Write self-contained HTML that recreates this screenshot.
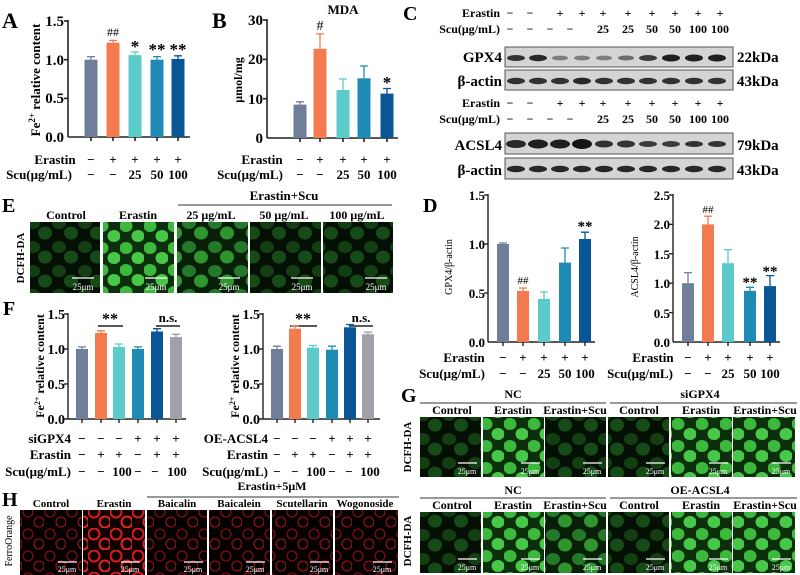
<!DOCTYPE html>
<html><head><meta charset="utf-8"><style>
html,body{margin:0;padding:0;background:#fff;}
svg{display:block;font-family:"Liberation Serif",serif;font-weight:bold;}
</style></head><body>
<svg width="800" height="575" viewBox="0 0 800 575" xmlns="http://www.w3.org/2000/svg">
<defs>
<pattern id="gd" width="26" height="24" patternUnits="userSpaceOnUse"><rect width="26" height="24" fill="#051005"/><ellipse cx="7" cy="7" rx="7" ry="6" fill="#123e12"/><ellipse cx="19" cy="17" rx="7" ry="6.5" fill="#164a16"/></pattern>
<pattern id="gm" width="26" height="24" patternUnits="userSpaceOnUse"><rect width="26" height="24" fill="#082008"/><ellipse cx="7" cy="7" rx="7" ry="6" fill="#23782a"/><ellipse cx="19" cy="17" rx="7" ry="6.5" fill="#2f952f"/></pattern>
<pattern id="gb" width="24" height="22" patternUnits="userSpaceOnUse"><rect width="24" height="22" fill="#0c300c"/><ellipse cx="6" cy="6" rx="6.5" ry="6" fill="#3cb83c"/><ellipse cx="18" cy="16" rx="6.5" ry="6" fill="#48c848"/></pattern>
<pattern id="rd" width="22" height="22" patternUnits="userSpaceOnUse"><rect width="22" height="22" fill="#050000"/><circle cx="6" cy="6" r="5" fill="none" stroke="#901010" stroke-width="1.1"/><circle cx="17" cy="16" r="5" fill="none" stroke="#a01414" stroke-width="1.1"/></pattern>
<pattern id="rb" width="22" height="22" patternUnits="userSpaceOnUse"><rect width="22" height="22" fill="#100000"/><circle cx="6" cy="6" r="5.5" fill="none" stroke="#d81c1c" stroke-width="2"/><circle cx="17" cy="16" r="5.5" fill="none" stroke="#e02424" stroke-width="2"/></pattern>
</defs>

<!-- Panel A -->
<text x="2" y="28" font-size="22">A</text>
<text transform="translate(40,80) rotate(-90)" font-size="13" text-anchor="middle">Fe<tspan font-size="9" dy="-5">2+</tspan><tspan dy="5"> relative content</tspan></text>
<g font-size="15" text-anchor="end"><text x="64" y="26">1.5</text><text x="64" y="65">1.0</text><text x="64" y="103">0.5</text><text x="64" y="142">0.0</text></g>
<g stroke="#222" stroke-width="1.6"><line x1="68" y1="20" x2="68" y2="137"/><line x1="68" y1="137" x2="190" y2="137"/>
<line x1="64" y1="21" x2="68" y2="21"/><line x1="64" y1="59.7" x2="68" y2="59.7"/><line x1="64" y1="98.4" x2="68" y2="98.4"/>
<line x1="91" y1="137" x2="91" y2="141"/><line x1="113" y1="137" x2="113" y2="141"/><line x1="135" y1="137" x2="135" y2="141"/><line x1="157" y1="137" x2="157" y2="141"/><line x1="178" y1="137" x2="178" y2="141"/></g>
<g stroke-width="1.3">
<rect x="84.5" y="59.7" width="13" height="77.3" fill="#6f7f9a"/><path d="M91 59.7V56.6M87 56.6H95" stroke="#6f7f9a"/>
<rect x="106.5" y="42.7" width="13" height="94.3" fill="#f47a4f"/><path d="M113 42.7V40.4M109 40.4H117" stroke="#f47a4f"/>
<rect x="128.5" y="55.1" width="13" height="81.9" fill="#5ecbcb"/><path d="M135 55.1V52M131 52H139" stroke="#5ecbcb"/>
<rect x="150.5" y="59.7" width="13" height="77.3" fill="#1f8ab4"/><path d="M157 59.7V56.6M153 56.6H161" stroke="#1f8ab4"/>
<rect x="171.5" y="58.9" width="13" height="78.1" fill="#0a5596"/><path d="M178 58.9V55.8M174 55.8H182" stroke="#0a5596"/></g>
<g text-anchor="middle"><text x="113" y="36" font-size="12" font-weight="normal">##</text><text x="135" y="52" font-size="17">*</text><text x="157" y="55" font-size="17">**</text><text x="178" y="55" font-size="17">**</text></g>
<g font-size="13" text-anchor="middle"><text x="55" y="164">Erastin</text><text x="39" y="179">Scu(μg/mL)</text>
<text x="91" y="164">−</text><text x="113" y="164">+</text><text x="135" y="164">+</text><text x="157" y="164">+</text><text x="178" y="164">+</text>
<text x="91" y="179">−</text><text x="113" y="179">−</text><text x="135" y="179">25</text><text x="157" y="179">50</text><text x="178" y="179">100</text></g>

<!-- Panel B -->
<text x="212" y="28" font-size="22">B</text>
<text x="343" y="14" font-size="13" text-anchor="middle">MDA</text>
<text transform="translate(242,80) rotate(-90)" font-size="12" text-anchor="middle">μmol/mg</text>
<g font-size="15" text-anchor="end"><text x="263" y="25">30</text><text x="263" y="64">20</text><text x="263" y="104">10</text><text x="263" y="143">0</text></g>
<g stroke="#222" stroke-width="1.6"><line x1="267" y1="19" x2="267" y2="138"/><line x1="267" y1="138" x2="398" y2="138"/>
<line x1="263" y1="20" x2="267" y2="20"/><line x1="263" y1="59.4" x2="267" y2="59.4"/><line x1="263" y1="98.7" x2="267" y2="98.7"/>
<line x1="300" y1="138" x2="300" y2="142"/><line x1="320" y1="138" x2="320" y2="142"/><line x1="343" y1="138" x2="343" y2="142"/><line x1="364" y1="138" x2="364" y2="142"/><line x1="387" y1="138" x2="387" y2="142"/></g>
<g stroke-width="1.3">
<rect x="293.5" y="104.6" width="13" height="33.4" fill="#6f7f9a"/><path d="M300 104.6V101.8M296 101.8H304" stroke="#6f7f9a"/>
<rect x="313.5" y="48.8" width="13" height="89.2" fill="#f47a4f"/><path d="M320 48.8V33.9M316 33.9H324" stroke="#f47a4f"/>
<rect x="336.5" y="90" width="13" height="48" fill="#5ecbcb"/><path d="M343 90V79M339 79H347" stroke="#5ecbcb"/>
<rect x="357.5" y="78.3" width="13" height="59.7" fill="#1f8ab4"/><path d="M364 78.3V66M360 66H368" stroke="#1f8ab4"/>
<rect x="380.5" y="93.6" width="13" height="44.4" fill="#0a5596"/><path d="M387 93.6V88.5M383 88.5H391" stroke="#0a5596"/></g>
<g text-anchor="middle"><text x="320" y="30" font-size="14" font-weight="normal">#</text><text x="387" y="88" font-size="17">*</text></g>
<g font-size="13" text-anchor="middle"><text x="262" y="164">Erastin</text><text x="250" y="179">Scu(μg/mL)</text>
<text x="300" y="164">−</text><text x="320" y="164">+</text><text x="343" y="164">+</text><text x="364" y="164">+</text><text x="387" y="164">+</text>
<text x="300" y="179">−</text><text x="320" y="179">−</text><text x="343" y="179">25</text><text x="364" y="179">50</text><text x="387" y="179">100</text></g>

<!-- Panel C -->
<text x="403" y="20" font-size="20">C</text>
<g font-size="12" text-anchor="end"><text x="500" y="17">Erastin</text><text x="500" y="33">Scu(μg/mL)</text><text x="500" y="107">Erastin</text><text x="500" y="123">Scu(μg/mL)</text></g>
<g font-size="12" text-anchor="middle">
<text x="510" y="17">−</text><text x="530" y="17">−</text><text x="560" y="17">+</text><text x="582" y="17">+</text><text x="603" y="17">+</text><text x="628" y="17">+</text><text x="652" y="17">+</text><text x="675" y="17">+</text><text x="698" y="17">+</text><text x="720" y="17">+</text>
<text x="510" y="33">−</text><text x="530" y="33">−</text><text x="550" y="33">−</text><text x="570" y="33">−</text><text x="603" y="33">25</text><text x="628" y="33">25</text><text x="652" y="33">50</text><text x="675" y="33">50</text><text x="698" y="33">100</text><text x="720" y="33">100</text>
<text x="510" y="107">−</text><text x="530" y="107">−</text><text x="560" y="107">+</text><text x="582" y="107">+</text><text x="603" y="107">+</text><text x="628" y="107">+</text><text x="652" y="107">+</text><text x="675" y="107">+</text><text x="698" y="107">+</text><text x="720" y="107">+</text>
<text x="510" y="123">−</text><text x="530" y="123">−</text><text x="550" y="123">−</text><text x="570" y="123">−</text><text x="603" y="123">25</text><text x="628" y="123">25</text><text x="652" y="123">50</text><text x="675" y="123">50</text><text x="698" y="123">100</text><text x="720" y="123">100</text></g>
<g font-size="15" text-anchor="end"><text x="502" y="62">GPX4</text><text x="502" y="86">β-actin</text><text x="502" y="150">ACSL4</text><text x="502" y="175">β-actin</text></g>
<g font-size="15"><text x="737" y="62">22kDa</text><text x="737" y="86">43kDa</text><text x="737" y="150">79kDa</text><text x="737" y="175">43kDa</text></g>
<g stroke="#555" stroke-width="1" fill="#d4d4d4"><rect x="505" y="47" width="228" height="20"/><rect x="505" y="70" width="228" height="20"/><rect x="505" y="133" width="228" height="21"/><rect x="505" y="158" width="228" height="21"/></g>
<g fill="#151515">
<ellipse cx="516" cy="58" rx="9" ry="3" opacity=".85"/><ellipse cx="538" cy="58" rx="9" ry="3.2" opacity=".9"/><ellipse cx="560" cy="58" rx="8" ry="2.4" opacity=".45"/><ellipse cx="582" cy="58" rx="8" ry="2.4" opacity=".45"/><ellipse cx="604" cy="58" rx="8" ry="2.4" opacity=".45"/><ellipse cx="626" cy="58" rx="8" ry="2.5" opacity=".55"/><ellipse cx="648" cy="58" rx="9" ry="3" opacity=".8"/><ellipse cx="671" cy="58" rx="9" ry="3.5" opacity=".95"/><ellipse cx="694" cy="58" rx="9" ry="3.5" opacity=".95"/><ellipse cx="717" cy="58" rx="9" ry="3.5" opacity=".95"/>
<ellipse cx="516" cy="81" rx="9" ry="3.2" opacity=".85"/><ellipse cx="538" cy="81" rx="9" ry="3.2" opacity=".85"/><ellipse cx="560" cy="81" rx="9" ry="3.2" opacity=".85"/><ellipse cx="582" cy="81" rx="9" ry="3.4" opacity=".9"/><ellipse cx="604" cy="81" rx="9" ry="3.2" opacity=".85"/><ellipse cx="626" cy="81" rx="9" ry="3.2" opacity=".85"/><ellipse cx="648" cy="81" rx="9" ry="3.2" opacity=".85"/><ellipse cx="671" cy="81" rx="9" ry="3.2" opacity=".85"/><ellipse cx="694" cy="81" rx="9" ry="3.2" opacity=".85"/><ellipse cx="717" cy="81" rx="9" ry="3.2" opacity=".85"/>
<ellipse cx="516" cy="144" rx="10" ry="4" opacity=".9"/><ellipse cx="538" cy="144" rx="10" ry="4.5" opacity=".95"/><ellipse cx="560" cy="144" rx="10" ry="4.5" opacity=".95"/><ellipse cx="582" cy="144" rx="10" ry="5" opacity="1"/><ellipse cx="604" cy="144" rx="9" ry="3.5" opacity=".85"/><ellipse cx="626" cy="144" rx="9" ry="3.5" opacity=".85"/><ellipse cx="648" cy="144" rx="9" ry="3" opacity=".8"/><ellipse cx="671" cy="144" rx="9" ry="3" opacity=".8"/><ellipse cx="694" cy="144" rx="9" ry="3" opacity=".85"/><ellipse cx="717" cy="144" rx="9" ry="3" opacity=".85"/>
<ellipse cx="516" cy="169" rx="9" ry="3.2" opacity=".9"/><ellipse cx="538" cy="169" rx="9" ry="3.2" opacity=".9"/><ellipse cx="560" cy="169" rx="9" ry="3.2" opacity=".9"/><ellipse cx="582" cy="169" rx="9" ry="3.2" opacity=".9"/><ellipse cx="604" cy="169" rx="9" ry="3.2" opacity=".9"/><ellipse cx="626" cy="169" rx="9" ry="3.2" opacity=".9"/><ellipse cx="648" cy="169" rx="9" ry="3.2" opacity=".9"/><ellipse cx="671" cy="169" rx="9" ry="3.2" opacity=".9"/><ellipse cx="694" cy="169" rx="9" ry="3.2" opacity=".9"/><ellipse cx="717" cy="169" rx="9" ry="3.2" opacity=".9"/></g>

<!-- Panel D -->
<text x="423" y="212" font-size="20">D</text>
<text transform="translate(452,267) rotate(-90)" font-size="10" font-weight="normal" text-anchor="middle">GPX4/β-actin</text>
<g font-size="13" text-anchor="end"><text x="485" y="200">1.5</text><text x="485" y="249">1.0</text><text x="485" y="298">0.5</text><text x="485" y="347">0.0</text></g>
<g stroke="#222" stroke-width="1.4"><line x1="488" y1="194" x2="488" y2="342"/><line x1="488" y1="342" x2="595" y2="342"/>
<line x1="484" y1="195" x2="488" y2="195"/><line x1="484" y1="244" x2="488" y2="244"/><line x1="484" y1="293" x2="488" y2="293"/>
<line x1="503" y1="342" x2="503" y2="346"/><line x1="523" y1="342" x2="523" y2="346"/><line x1="544" y1="342" x2="544" y2="346"/><line x1="565" y1="342" x2="565" y2="346"/><line x1="585" y1="342" x2="585" y2="346"/></g>
<g stroke-width="1.3">
<rect x="497" y="244" width="12" height="98" fill="#6f7f9a"/><path d="M503 244V243M499 243H507" stroke="#6f7f9a"/>
<rect x="517" y="291" width="12" height="51" fill="#f47a4f"/><path d="M523 291V288M519 288H527" stroke="#f47a4f"/>
<rect x="538" y="298.9" width="12" height="43.1" fill="#5ecbcb"/><path d="M544 298.9V292M540 292H548" stroke="#5ecbcb"/>
<rect x="559" y="262.6" width="12" height="79.4" fill="#1f8ab4"/><path d="M565 262.6V248M561 248H569" stroke="#1f8ab4"/>
<rect x="579" y="239" width="12" height="103" fill="#0a5596"/><path d="M585 239V232.2M581 232.2H589" stroke="#0a5596"/></g>
<g text-anchor="middle"><text x="523" y="284" font-size="11" font-weight="normal">##</text><text x="585" y="231" font-size="15">**</text></g>
<g font-size="13" text-anchor="middle"><text x="464" y="362">Erastin</text><text x="452" y="378">Scu(μg/mL)</text>
<text x="503" y="362">−</text><text x="523" y="362">+</text><text x="544" y="362">+</text><text x="565" y="362">+</text><text x="585" y="362">+</text>
<text x="503" y="378">−</text><text x="523" y="378">−</text><text x="544" y="378">25</text><text x="565" y="378">50</text><text x="585" y="378">100</text></g>

<text transform="translate(638,267) rotate(-90)" font-size="10" font-weight="normal" text-anchor="middle">ACSL4/β-actin</text>
<g font-size="13" text-anchor="end"><text x="670" y="200">2.5</text><text x="670" y="229">2.0</text><text x="670" y="259">1.5</text><text x="670" y="288">1.0</text><text x="670" y="318">0.5</text><text x="670" y="347">0.0</text></g>
<g stroke="#222" stroke-width="1.4"><line x1="673" y1="194" x2="673" y2="342"/><line x1="673" y1="342" x2="780" y2="342"/>
<line x1="669" y1="195" x2="673" y2="195"/><line x1="669" y1="224.4" x2="673" y2="224.4"/><line x1="669" y1="253.8" x2="673" y2="253.8"/><line x1="669" y1="283.2" x2="673" y2="283.2"/><line x1="669" y1="312.6" x2="673" y2="312.6"/>
<line x1="688" y1="342" x2="688" y2="346"/><line x1="708" y1="342" x2="708" y2="346"/><line x1="728" y1="342" x2="728" y2="346"/><line x1="750" y1="342" x2="750" y2="346"/><line x1="770" y1="342" x2="770" y2="346"/></g>
<g stroke-width="1.3">
<rect x="682" y="283.2" width="12" height="58.8" fill="#6f7f9a"/><path d="M688 283.2V272.6M684 272.6H692" stroke="#6f7f9a"/>
<rect x="702" y="224.4" width="12" height="117.6" fill="#f47a4f"/><path d="M708 224.4V216.2M704 216.2H712" stroke="#f47a4f"/>
<rect x="722" y="263.2" width="12" height="78.8" fill="#5ecbcb"/><path d="M728 263.2V249.7M724 249.7H732" stroke="#5ecbcb"/>
<rect x="744" y="290.8" width="12" height="51.2" fill="#1f8ab4"/><path d="M750 290.8V287.3M746 287.3H754" stroke="#1f8ab4"/>
<rect x="764" y="286.1" width="12" height="55.9" fill="#0a5596"/><path d="M770 286.1V275.6M766 275.6H774" stroke="#0a5596"/></g>
<g text-anchor="middle"><text x="708" y="213" font-size="11" font-weight="normal">##</text><text x="750" y="287" font-size="15">**</text><text x="770" y="276" font-size="15">**</text></g>
<g font-size="13" text-anchor="middle"><text x="653" y="362">Erastin</text><text x="640" y="378">Scu(μg/mL)</text>
<text x="688" y="362">−</text><text x="708" y="362">+</text><text x="728" y="362">+</text><text x="750" y="362">+</text><text x="770" y="362">+</text>
<text x="688" y="378">−</text><text x="708" y="378">−</text><text x="728" y="378">25</text><text x="750" y="378">50</text><text x="770" y="378">100</text></g>

<!-- Panel E -->
<text x="2" y="212" font-size="20">E</text>
<text x="284" y="200" font-size="13" text-anchor="middle">Erastin+Scu</text>
<line x1="178" y1="205" x2="392" y2="205" stroke="#333" stroke-width="1"/>
<g font-size="12" text-anchor="middle"><text x="66" y="219">Control</text><text x="138" y="219">Erastin</text><text x="211" y="219">25 μg/mL</text><text x="284" y="219">50 μg/mL</text><text x="357" y="219">100 μg/mL</text></g>
<text transform="translate(24,258) rotate(-90)" font-size="11" text-anchor="middle">DCFH-DA</text>
<rect x="30" y="222" width="70" height="71" fill="url(#gd)"/>
<rect x="103" y="222" width="71" height="71" fill="url(#gb)"/>
<rect x="177" y="222" width="71" height="71" fill="url(#gm)"/>
<rect x="250" y="222" width="71" height="71" fill="url(#gd)"/>
<rect x="323" y="222" width="70" height="71" fill="url(#gd)"/>
<g stroke="#fff" stroke-width="1.3"><line x1="72" y1="278" x2="94" y2="278"/><line x1="145" y1="278" x2="167" y2="278"/><line x1="218" y1="278" x2="240" y2="278"/><line x1="291" y1="278" x2="313" y2="278"/><line x1="365" y1="278" x2="387" y2="278"/></g>
<g font-size="9" fill="#fff" text-anchor="middle" font-weight="normal"><text x="83" y="290">25μm</text><text x="156" y="290">25μm</text><text x="229" y="290">25μm</text><text x="302" y="290">25μm</text><text x="376" y="290">25μm</text></g>

<!-- Panel F -->
<text x="3" y="315" font-size="20">F</text>
<text transform="translate(44,366) rotate(-90)" font-size="12" text-anchor="middle">Fe<tspan font-size="8" dy="-4">2+</tspan><tspan dy="4"> relative content</tspan></text>
<text transform="translate(239,366) rotate(-90)" font-size="12" text-anchor="middle">Fe<tspan font-size="8" dy="-4">2+</tspan><tspan dy="4"> relative content</tspan></text>
<g font-size="14" text-anchor="end"><text x="65" y="319">1.5</text><text x="65" y="354">1.0</text><text x="65" y="389">0.5</text><text x="65" y="424">0.0</text>
<text x="260" y="319">1.5</text><text x="260" y="354">1.0</text><text x="260" y="389">0.5</text><text x="260" y="424">0.0</text></g>
<g stroke="#222" stroke-width="1.4"><line x1="68" y1="313" x2="68" y2="419"/><line x1="64" y1="419" x2="186" y2="419"/>
<line x1="64" y1="314" x2="68" y2="314"/><line x1="64" y1="349" x2="68" y2="349"/><line x1="64" y1="384" x2="68" y2="384"/>
<line x1="82" y1="419" x2="82" y2="423"/><line x1="101" y1="419" x2="101" y2="423"/><line x1="119" y1="419" x2="119" y2="423"/><line x1="138" y1="419" x2="138" y2="423"/><line x1="157" y1="419" x2="157" y2="423"/><line x1="176" y1="419" x2="176" y2="423"/>
<line x1="263" y1="313" x2="263" y2="419"/><line x1="259" y1="419" x2="380" y2="419"/>
<line x1="259" y1="314" x2="263" y2="314"/><line x1="259" y1="349" x2="263" y2="349"/><line x1="259" y1="384" x2="263" y2="384"/>
<line x1="277" y1="419" x2="277" y2="423"/><line x1="295" y1="419" x2="295" y2="423"/><line x1="313" y1="419" x2="313" y2="423"/><line x1="332" y1="419" x2="332" y2="423"/><line x1="350" y1="419" x2="350" y2="423"/><line x1="368" y1="419" x2="368" y2="423"/>
<line x1="98" y1="326" x2="123" y2="326"/><line x1="156" y1="326" x2="180" y2="326"/><line x1="290" y1="326" x2="317" y2="326"/><line x1="349" y1="326" x2="373" y2="326"/></g>
<g stroke-width="1.3">
<rect x="76" y="349" width="12" height="70" fill="#6f7f9a"/><path d="M82 349V346.9M78 346.9H86" stroke="#6f7f9a"/>
<rect x="95" y="332.9" width="12" height="86.1" fill="#f47a4f"/><path d="M101 332.9V330.8M97 330.8H105" stroke="#f47a4f"/>
<rect x="113" y="346.9" width="12" height="72.1" fill="#5ecbcb"/><path d="M119 346.9V344M115 344H123" stroke="#5ecbcb"/>
<rect x="132" y="349" width="12" height="70" fill="#1f8ab4"/><path d="M138 349V346.9M134 346.9H142" stroke="#1f8ab4"/>
<rect x="151" y="331.5" width="12" height="87.5" fill="#0a5596"/><path d="M157 331.5V328.7M153 328.7H161" stroke="#0a5596"/>
<rect x="170" y="337.1" width="12" height="81.9" fill="#a0a0a8"/><path d="M176 337.1V334.3M172 334.3H180" stroke="#a0a0a8"/>
<rect x="271" y="349" width="12" height="70" fill="#6f7f9a"/><path d="M277 349V346.2M273 346.2H281" stroke="#6f7f9a"/>
<rect x="289" y="328.7" width="12" height="90.3" fill="#f47a4f"/><path d="M295 328.7V325.9M291 325.9H299" stroke="#f47a4f"/>
<rect x="307" y="347.6" width="12" height="71.4" fill="#5ecbcb"/><path d="M313 347.6V345.5M309 345.5H317" stroke="#5ecbcb"/>
<rect x="326" y="349.7" width="12" height="69.3" fill="#1f8ab4"/><path d="M332 349.7V346.2M328 346.2H336" stroke="#1f8ab4"/>
<rect x="344" y="327.3" width="12" height="91.7" fill="#0a5596"/><path d="M350 327.3V324.5M346 324.5H354" stroke="#0a5596"/>
<rect x="362" y="334.3" width="12" height="84.7" fill="#a0a0a8"/><path d="M368 334.3V332.2M364 332.2H372" stroke="#a0a0a8"/></g>
<g text-anchor="middle"><text x="110" y="324" font-size="16">**</text><text x="168" y="322" font-size="13">n.s.</text><text x="303" y="324" font-size="16">**</text><text x="361" y="322" font-size="13">n.s.</text></g>
<g font-size="13" text-anchor="end"><text x="71" y="443">siGPX4</text><text x="71" y="459">Erastin</text><text x="71" y="476">Scu(μg/mL)</text>
<text x="268" y="443">OE-ACSL4</text><text x="268" y="459">Erastin</text><text x="268" y="476">Scu(μg/mL)</text></g>
<g font-size="13" text-anchor="middle">
<text x="82" y="443">−</text><text x="101" y="443">−</text><text x="119" y="443">−</text><text x="138" y="443">+</text><text x="157" y="443">+</text><text x="176" y="443">+</text>
<text x="82" y="459">−</text><text x="101" y="459">+</text><text x="119" y="459">+</text><text x="138" y="459">−</text><text x="157" y="459">+</text><text x="176" y="459">+</text>
<text x="82" y="476">−</text><text x="101" y="476">−</text><text x="122" y="476">100</text><text x="138" y="476">−</text><text x="155" y="476">−</text><text x="177" y="476">100</text>
<text x="277" y="443">−</text><text x="295" y="443">−</text><text x="313" y="443">−</text><text x="332" y="443">+</text><text x="350" y="443">+</text><text x="368" y="443">+</text>
<text x="277" y="459">−</text><text x="295" y="459">+</text><text x="313" y="459">+</text><text x="332" y="459">−</text><text x="350" y="459">+</text><text x="368" y="459">+</text>
<text x="277" y="476">−</text><text x="295" y="476">−</text><text x="316" y="476">100</text><text x="332" y="476">−</text><text x="349" y="476">−</text><text x="370" y="476">100</text></g>

<!-- Panel G -->
<text x="401" y="402" font-size="20">G</text>
<g font-size="12" text-anchor="middle"><text x="513" y="398">NC</text><text x="700" y="398">siGPX4</text><text x="513" y="494">NC</text><text x="700" y="494">OE-ACSL4</text></g>
<g stroke="#333" stroke-width="1"><line x1="420" y1="403" x2="606" y2="403"/><line x1="610" y1="403" x2="797" y2="403"/><line x1="420" y1="498" x2="606" y2="498"/><line x1="610" y1="498" x2="797" y2="498"/></g>
<g font-size="12" text-anchor="middle"><text x="452" y="414">Control</text><text x="513" y="414">Erastin</text><text x="575" y="414">Erastin+Scu</text><text x="639" y="414">Control</text><text x="701" y="414">Erastin</text><text x="765" y="414">Erastin+Scu</text>
<text x="452" y="509">Control</text><text x="513" y="509">Erastin</text><text x="575" y="509">Erastin+Scu</text><text x="639" y="509">Control</text><text x="701" y="509">Erastin</text><text x="765" y="509">Erastin+Scu</text></g>
<text transform="translate(411,447) rotate(-90)" font-size="11" text-anchor="middle">DCFH-DA</text>
<text transform="translate(411,541) rotate(-90)" font-size="11" text-anchor="middle">DCFH-DA</text>
<rect x="420" y="417" width="61" height="60" fill="url(#gd)"/><rect x="483" y="417" width="61" height="60" fill="url(#gb)"/><rect x="545" y="417" width="61" height="60" fill="url(#gd)"/>
<rect x="608" y="417" width="61" height="60" fill="url(#gd)"/><rect x="671" y="417" width="61" height="60" fill="url(#gb)"/><rect x="733" y="417" width="62" height="60" fill="url(#gb)"/>
<rect x="420" y="512" width="61" height="61" fill="url(#gd)"/><rect x="483" y="512" width="61" height="61" fill="url(#gb)"/><rect x="545" y="512" width="61" height="61" fill="url(#gm)"/>
<rect x="608" y="512" width="61" height="61" fill="url(#gd)"/><rect x="671" y="512" width="61" height="61" fill="url(#gb)"/><rect x="733" y="512" width="62" height="61" fill="url(#gb)"/>
<g stroke="#fff" stroke-width="1.2"><path d="M458 463h19M521 463h19M583 463h19M646 463h19M709 463h19M772 463h19M458 559h19M521 559h19M583 559h19M646 559h19M709 559h19M772 559h19"/></g>
<g font-size="8" fill="#fff" text-anchor="middle" font-weight="normal"><text x="467" y="474">25μm</text><text x="530" y="474">25μm</text><text x="592" y="474">25μm</text><text x="655" y="474">25μm</text><text x="718" y="474">25μm</text><text x="781" y="474">25μm</text>
<text x="467" y="570">25μm</text><text x="530" y="570">25μm</text><text x="592" y="570">25μm</text><text x="655" y="570">25μm</text><text x="718" y="570">25μm</text><text x="781" y="570">25μm</text></g>

<!-- Panel H -->
<text x="2" y="506" font-size="20">H</text>
<text x="272" y="490" font-size="12" text-anchor="middle">Erastin+5μM</text>
<line x1="147" y1="497" x2="399" y2="497" stroke="#333" stroke-width="1"/>
<g font-size="11" text-anchor="middle"><text x="51" y="507">Control</text><text x="114" y="507">Erastin</text><text x="177" y="507">Baicalin</text><text x="239" y="507">Baicalein</text><text x="302" y="507">Scutellarin</text><text x="365" y="507">Wogonoside</text></g>
<text transform="translate(12,541) rotate(-90)" font-size="10" font-weight="normal" text-anchor="middle">FerroOrange</text>
<rect x="20" y="510" width="62" height="65" fill="url(#rd)"/><rect x="83" y="510" width="62" height="65" fill="url(#rb)"/><rect x="147" y="510" width="60" height="65" fill="url(#rd)"/>
<rect x="209" y="510" width="61" height="65" fill="url(#rd)"/><rect x="272" y="510" width="61" height="65" fill="url(#rd)"/><rect x="335" y="510" width="63" height="65" fill="url(#rd)"/>
<g stroke="#fff" stroke-width="1.2"><path d="M58 562h19M121 562h19M184 562h19M246 562h19M310 562h19M373 562h19"/></g>
<g font-size="8" fill="#fff" text-anchor="middle" font-weight="normal"><text x="67" y="572">25μm</text><text x="130" y="572">25μm</text><text x="193" y="572">25μm</text><text x="255" y="572">25μm</text><text x="319" y="572">25μm</text><text x="382" y="572">25μm</text></g>
</svg>
</body></html>
